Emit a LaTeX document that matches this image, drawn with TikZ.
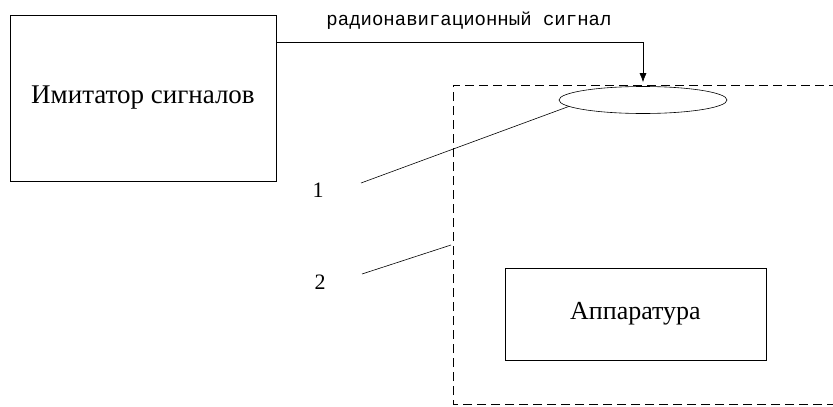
\documentclass[tikz,border=0pt]{standalone}
\usepackage{fontspec}
\setmainfont{Liberation Serif}
\setmonofont{Liberation Mono}
\usetikzlibrary{shapes.geometric,arrows.meta}
\begin{document}
\begin{tikzpicture}[x=1pt,y=-1pt,line width=0.6pt]
    \useasboundingbox (0,0) rectangle (833,407);
    \node[draw,minimum width=266pt,minimum height=166pt,font=\fontsize{27}{30}\selectfont](imit) at (143,98) {Имитатор сигналов};
    \node[draw,minimum width=261pt,minimum height=92pt,font=\fontsize{26}{30}\selectfont](app) at (635.5,314) {Аппаратура};
    \node[draw,ellipse,inner sep=0pt,minimum width=168pt,minimum height=27pt](ant) at (643,100) {};
    \node[font=\ttfamily\fontsize{19}{22}\selectfont](sig) at (469,21) {радионавигационный сигнал};
    \node[font=\fontsize{22}{26}\selectfont](n1) at (318,190) {1};
    \node[font=\fontsize{22}{26}\selectfont](n2) at (320,282) {2};
    \draw[dashed,dash pattern=on 9pt off 5pt] (836,404)--(453,404)--(453,85)--(836,85);
    \coordinate (out) at (276,42);
    \draw[-{Latex[length=9pt,width=7pt]}] (out) -| ([yshift=4pt]ant.north);
    \coordinate (p1) at (361,183);
    \coordinate (p2) at (362,274);
    \coordinate (q2) at (451,245);
    \draw (p1)--(ant.185);
    \draw (p2)--(q2);
\end{tikzpicture}
\end{document}
